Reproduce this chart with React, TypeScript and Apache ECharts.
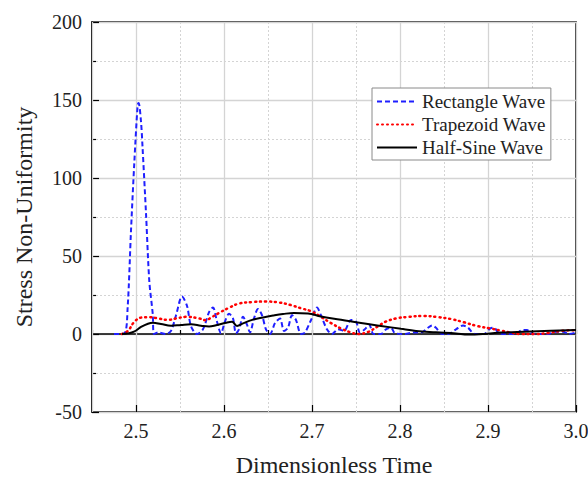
import React, { useEffect, useRef } from "react";
import * as echarts from "echarts";

const xTickLabels = ["2.5", "2.6", "2.7", "2.8", "2.9", "3.0"];
const yTickLabels = ["-50", "0", "50", "100", "150", "200"];
const seriesNames = ["Rectangle Wave", "Trapezoid Wave", "Half-Sine Wave"];

const tRect = [
  2.475, 2.4867, 2.4905, 2.4943, 2.498, 2.5019, 2.503, 2.5057, 2.5075, 2.5114, 2.5151, 2.519, 2.5205,
  2.525, 2.5341, 2.5398, 2.5455, 2.5523, 2.558, 2.5625, 2.5693, 2.5761, 2.583, 2.5875, 2.592, 2.5966,
  2.6011, 2.6057, 2.6102, 2.6136, 2.617, 2.6216, 2.6261, 2.6295, 2.6341, 2.6386, 2.6432, 2.6477, 2.6523,
  2.658, 2.6636, 2.6682, 2.6727, 2.6773, 2.6818, 2.6875, 2.692, 2.6989, 2.7057, 2.7102, 2.717, 2.7227,
  2.7295, 2.7364, 2.7443, 2.75, 2.7545, 2.76, 2.765, 2.77, 2.7784, 2.7841, 2.7898, 2.7943, 2.8057,
  2.8148, 2.8239, 2.8318, 2.8364, 2.8409, 2.8477, 2.8545, 2.8636, 2.8716, 2.8773, 2.8852, 2.8955,
  2.9023, 2.9068, 2.9125, 2.9205, 2.9318, 2.9386, 2.9443, 2.9511, 2.9602, 2.9682, 2.9773, 2.9852,
  2.992, 3.0,
];
const vRect = [
  0, 0.4, 17, 66, 109, 147, 148, 136, 119, 77, 34, 13, 0,
  1, 0, 2, 12, 24, 18, 5, 0, 3, 14, 17, 8, 0.5,
  8, 13, 10, 0.5, 3, 11, 6, 1, 10, 16, 12, 3, 0,
  7, 10, 2, 4, 12, 9, 0, 1, 9, 17, 12, 3, 0,
  3, 2, 9, 8, 1, 3, 6, 0, 0, 3, 4, 0.5, 0,
  1, 1, 4, 5.5, 4, 0, 0, 3, 5.5, 4, 0, 0,
  3.5, 4, 0.5, 0, 0, 2.5, 2.5, 0, 0, 0, 1.5, 1.5,
  0, 1,
];

const tTrap = [
  2.4841, 2.4909, 2.4977, 2.5057, 2.5148, 2.525, 2.5364, 2.5455, 2.5568, 2.5716, 2.5795, 2.5852,
  2.5943, 2.6057, 2.617, 2.633, 2.6477, 2.6625, 2.6761, 2.6875, 2.6989, 2.7102, 2.7216, 2.733,
  2.7443, 2.7523, 2.7636, 2.775, 2.7841, 2.7955, 2.8102, 2.8273, 2.8432, 2.858, 2.8727, 2.8886,
  2.9034, 2.9148, 2.9261, 2.9375, 2.9523, 2.9682, 2.983, 3.0,
];
const vTrap = [
  0, 2, 7.5, 10.5, 10.8, 10, 9, 10, 11, 10, 8.8, 10.5,
  13.5, 16.8, 19.5, 20.5, 20.8, 20.2, 18.5, 16.5, 14.6, 11, 7, 3.5,
  1, 0, 1.3, 5, 8, 10, 11, 11.6, 10.8, 9.6, 7.5, 5,
  3.5, 2.2, 0.9, 0, 0, 0.6, 2, 2.5,
];

const tSine = [
  2.4841, 2.4909, 2.4977, 2.5057, 2.5136, 2.5193, 2.5284, 2.5398, 2.5511, 2.5625, 2.5739, 2.583,
  2.591, 2.6023, 2.6091, 2.6148, 2.6216, 2.633, 2.6443, 2.6557, 2.667, 2.6795, 2.6955, 2.7102,
  2.733, 2.7557, 2.7784, 2.8011, 2.8182, 2.8409, 2.8636, 2.8773, 2.8955, 2.9148, 2.9409, 2.9716, 3.0,
];
const vSine = [
  0, 0.4, 1.5, 4.5, 6.6, 7.2, 6.4, 5.3, 5.8, 6.2, 5.3, 4.8,
  5.6, 7.2, 7.8, 5.2, 6.8, 9.2, 10.6, 11.8, 12.8, 13.5, 13.2, 11.2,
  9.2, 7.0, 5.2, 3.3, 2.0, 1.1, 0.3, -0.4, 0, 0.9, 1.5, 2.1, 2.5,
];

const zip = (t: number[], v: number[]) => t.map((x, i) => [x, v[i]]);

const FONT = "Liberation Serif";

export default function App() {
  const ref = useRef<HTMLDivElement>(null);
  useEffect(() => {
    if (!ref.current) return;
    const chart = echarts.init(ref.current, null, { renderer: "svg" });
    chart.setOption({
      animation: false,
      backgroundColor: "#fff",
      textStyle: { fontFamily: FONT },
      grid: {
        left: 92,
        right: 12,
        top: 22,
        bottom: 68,
        show: true,
        borderColor: "#000",
        borderWidth: 1.5,
        backgroundColor: "transparent",
        containLabel: false,
        outerBoundsMode: "none",
      },
      legend: {
        orient: "vertical",
        left: 372,
        top: 88,
        padding: [4, 5, 3, 4],
        itemWidth: 40,
        itemHeight: 14,
        itemGap: 4,
        borderColor: "#8a8a8a",
        borderWidth: 1,
        backgroundColor: "#fff",
        itemStyle: { opacity: 0 },
        textStyle: { fontFamily: FONT, fontSize: 19, color: "#222" },
        data: seriesNames,
      },
      xAxis: [
        {
          type: "value",
          min: 2.45,
          max: 3.0,
          interval: 0.05,
          position: "bottom",
          axisLine: { show: true, lineStyle: { color: "#000", width: 1.5 } },
          axisTick: { show: true, inside: true, length: 4, lineStyle: { color: "#000", width: 1.2 } },
          axisLabel: { show: false },
          splitLine: { show: true, lineStyle: { color: "#d4d4d4", type: [2, 2], width: 1 } },
        },
        {
          type: "value",
          min: 2.45,
          max: 3.0,
          position: "bottom",
          name: "Dimensionless Time",
          nameLocation: "middle",
          nameGap: 41,
          nameTextStyle: { fontFamily: FONT, fontSize: 24, color: "#222" },
          axisLine: { show: false },
          axisTick: { show: true, inside: true, length: 7, lineStyle: { color: "#000", width: 1.2 } },
          axisLabel: {
            showMinLabel: false,
            margin: 9,
            fontFamily: FONT,
            fontSize: 20,
            color: "#222",
            formatter: (v: number) => {
              const s = v.toFixed(1);
              return xTickLabels.includes(s) && Math.abs(v - Number(s)) < 1e-6 ? s : "";
            },
          },
          splitLine: { show: true, lineStyle: { color: "#d4d4d4", width: 1.3 } },
          z: 3,
        },
      ],
      yAxis: {
        type: "value",
        min: -50,
        max: 200,
        interval: 50,
        name: "Stress Non-Uniformity",
        nameLocation: "middle",
        nameGap: 56,
        nameTextStyle: { fontFamily: FONT, fontSize: 24, color: "#222" },
        axisLine: { show: true, lineStyle: { color: "#000", width: 1.5 } },
        axisTick: { show: true, inside: true, length: 7, lineStyle: { color: "#000", width: 1.2 } },
        minorTick: { show: true, splitNumber: 2, length: 4, lineStyle: { color: "#000", width: 1.2 } },
        axisLabel: {
          margin: 10,
          fontFamily: FONT,
          fontSize: 20,
          color: "#222",
          formatter: (v: number) => (yTickLabels.includes(String(v)) ? String(v) : ""),
        },
        splitLine: { show: true, lineStyle: { color: "#d4d4d4", width: 1.3 } },
        minorSplitLine: { show: true, lineStyle: { color: "#d4d4d4", type: [2, 2], width: 1 } },
      },
      series: [
        {
          name: seriesNames[0],
          type: "line",
          xAxisIndex: 0,
          data: zip(tRect, vRect),
          symbol: "none",
          smooth: 0.3,
          lineStyle: { color: "#1f1fff", width: 2, type: [5, 3] },
          itemStyle: { color: "#1f1fff" },
          z: 4,
        },
        {
          name: seriesNames[1],
          type: "line",
          xAxisIndex: 0,
          data: zip(tTrap, vTrap),
          symbol: "none",
          smooth: 0.4,
          lineStyle: { color: "#ff0000", width: 2.5, type: [1, 4], cap: "round" },
          itemStyle: { color: "#ff0000" },
          z: 5,
        },
        {
          name: seriesNames[2],
          type: "line",
          xAxisIndex: 0,
          data: zip(tSine, vSine),
          symbol: "none",
          smooth: 0.4,
          lineStyle: { color: "#000", width: 2, type: "solid" },
          itemStyle: { color: "#000" },
          z: 6,
        },
      ],
    });
    return () => chart.dispose();
  }, []);
  return (
    <div
      ref={ref}
      style={{ position: "fixed", left: 0, top: 0, width: 588, height: 480, background: "#fff" }}
    />
  );
}
